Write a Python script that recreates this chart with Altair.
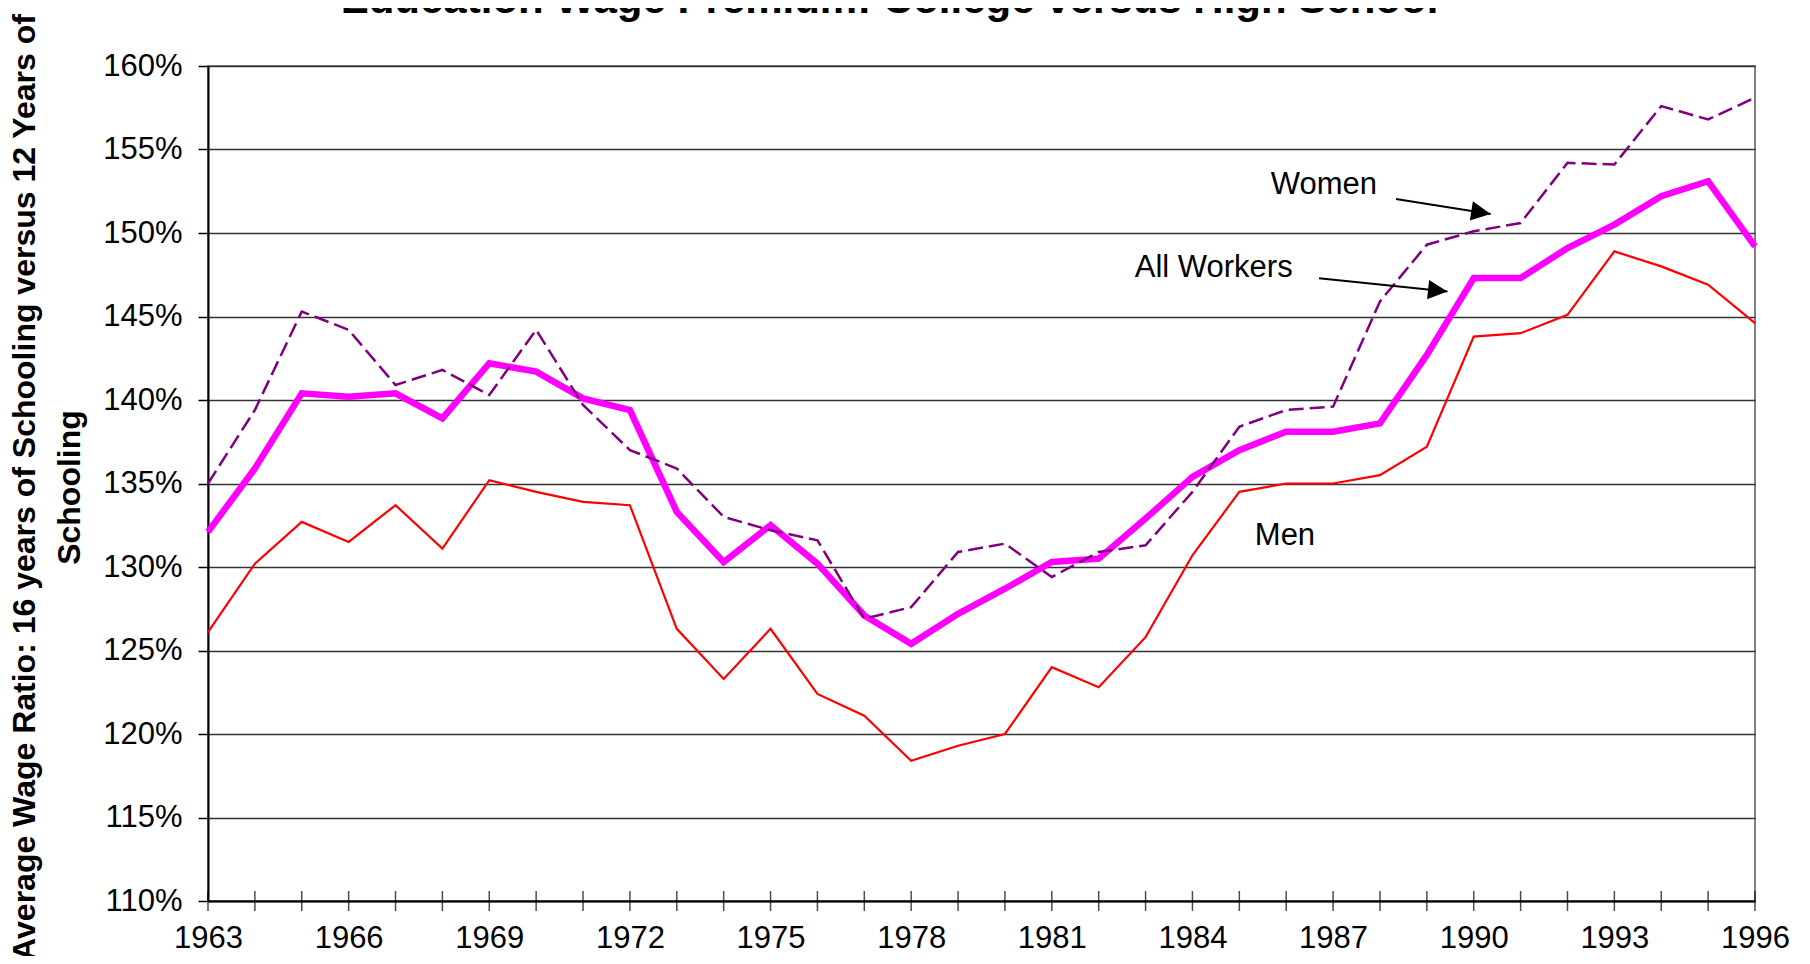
import altair as alt
import pandas as pd

years = list(range(1963, 1997))
all_workers = [132.1, 135.9, 140.4, 140.2, 140.4, 138.9, 142.2, 141.7, 140.1, 139.4,
               133.3, 130.3, 132.5, 130.2, 127.1, 125.4, 127.2, 128.7, 130.3, 130.5,
               132.9, 135.4, 137.0, 138.1, 138.1, 138.6, 142.7, 147.3, 147.3, 149.1,
               150.5, 152.2, 153.1, 149.2]
women = [135.0, 139.4, 145.3, 144.2, 140.9, 141.8, 140.3, 144.2, 139.7, 137.0,
         135.9, 133.0, 132.2, 131.6, 126.9, 127.6, 130.9, 131.4, 129.4, 130.9,
         131.3, 134.5, 138.4, 139.4, 139.6, 145.9, 149.3, 150.1, 150.6, 154.2,
         154.1, 157.6, 156.8, 158.1]
men = [126.1, 130.2, 132.7, 131.5, 133.7, 131.1, 135.2, 134.5, 133.9, 133.7,
       126.3, 123.3, 126.3, 122.4, 121.1, 118.4, 119.3, 120.0, 124.0, 122.8,
       125.8, 130.7, 134.5, 135.0, 135.0, 135.5, 137.2, 143.8, 144.0, 145.1,
       148.9, 148.0, 146.9, 144.6]

y_ticks = [110, 115, 120, 125, 130, 135, 140, 145, 150, 155, 160]

# annotations (data coordinates)
label_text = ["Women", "All Workers", "Men"]
label_x = [1985.67, 1982.77, 1985.33]
label_y = [152.34, 147.37, 131.32]
arrow_x = [1988.34, 1986.70]
arrow_y = [152.04, 147.29]
arrow_x2 = [1990.36, 1989.44]
arrow_y2 = [151.14, 146.49]
arrow_angle = [9.0, 5.9]

FONT = "Arial, Liberation Sans, sans-serif"

df = pd.DataFrame({
    "year": years * 3,
    "value": all_workers + women + men,
    "series": ["All Workers"] * len(years) + ["Women"] * len(years) + ["Men"] * len(years),
})
years_df = pd.DataFrame({"year": years, "base": [110] * len(years)})
labels_df = pd.DataFrame({"x": label_x, "y": label_y, "text": label_text})
arrows_df = pd.DataFrame({"x": arrow_x, "y": arrow_y, "x2": arrow_x2, "y2": arrow_y2,
                          "angle": arrow_angle})

xscale = alt.Scale(domain=[1963, 1996], nice=False, zero=False)
yscale = alt.Scale(domain=[110, 160], nice=False, zero=False)

x_axis = alt.Axis(
    values=years, ticks=False, grid=False,
    labelExpr="(datum.value - 1963) % 3 == 0 ? format(datum.value, 'd') : ''",
    labelFont=FONT, labelFontSize=31, labelColor="black", labelPadding=46,
    labelBaseline="alphabetic", labelOverlap=False, labelFlush=False,
    domainColor="black", domainWidth=2, title=None,
)
y_axis = alt.Axis(
    values=y_ticks, labelExpr="datum.value + '%'",
    tickSize=10, tickColor="black", tickWidth=1.5,
    labelFont=FONT, labelFontSize=31, labelColor="black", labelPadding=16,
    labelFlush=False, labelOverlap=False,
    grid=True, gridColor="#333333", gridWidth=1.5,
    domainColor="black", domainWidth=2,
    title=["Average Wage Ratio: 16 years of Schooling versus 12 Years of", "Schooling"],
    titleFont=FONT, titleFontSize=32, titleFontWeight="bold", titleColor="black",
    titleAngle=270, titleAlign="center", titleBaseline="middle", titleLineHeight=45,
    titleX=-183.5, titleY=421,
)


def X(field):
    return alt.X(field, type="quantitative", scale=xscale, axis=x_axis)


def Y(field):
    return alt.Y(field, type="quantitative", scale=yscale, axis=y_axis)


base = alt.Chart(df)

aw_line = base.transform_filter(alt.datum.series == "All Workers").mark_line(
    color="#FF00FF", strokeWidth=6.5, strokeJoin="miter"
).encode(x=X("year"), y=Y("value"))
women_line = base.transform_filter(alt.datum.series == "Women").mark_line(
    color="#800080", strokeWidth=2.5, strokeDash=[15, 6]
).encode(x=X("year"), y=Y("value"))
men_line = base.transform_filter(alt.datum.series == "Men").mark_line(
    color="#FF0000", strokeWidth=2.2
).encode(x=X("year"), y=Y("value"))

xticks = alt.Chart(years_df).mark_tick(
    orient="vertical", size=20, thickness=1.5, color="black"
).encode(x=X("year"), y=Y("base"))

texts = alt.Chart(labels_df).mark_text(
    align="left", baseline="alphabetic", font=FONT, fontSize=31, color="black"
).encode(x=X("x"), y=Y("y"), text="text:N")

arrow_lines = alt.Chart(arrows_df).mark_rule(color="black", strokeWidth=2).encode(
    x=X("x"), y=Y("y"), x2="x2:Q", y2="y2:Q",
)
arrow_heads = alt.Chart(arrows_df).mark_point(
    shape="M0,0L-2,-1L-2,1Z", filled=True, color="black", opacity=1, size=380
).encode(
    x=X("x2"), y=Y("y2"),
    angle=alt.Angle("angle:Q", scale=None),
)

chart = alt.layer(
    aw_line, women_line, men_line, xticks, texts, arrow_lines, arrow_heads
).properties(
    width=1547,
    height=835,
    autosize=alt.AutoSizeParams(type="none"),
    padding={"left": 200, "top": 58, "right": 40, "bottom": 55},
    title=alt.TitleParams(
        text="Education Wage Premium: College versus High School",
        font=FONT, fontSize=42, fontWeight="bold", color="black",
        anchor="middle", frame="group", dx=-92, dy=45, baseline="alphabetic", offset=3,
    ),
).configure_view(
    stroke="#808080", strokeWidth=2
)

chart.save("out.html", embed_options={"renderer": "svg", "actions": False})
